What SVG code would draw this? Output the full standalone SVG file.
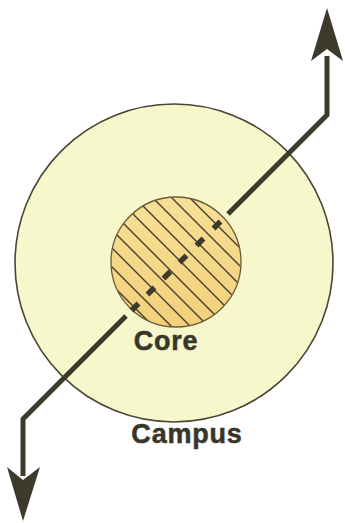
<svg xmlns="http://www.w3.org/2000/svg" width="345" height="523" viewBox="0 0 345 523">
  <defs>
    <style>
      .label { font-family: "Liberation Sans", Arial, sans-serif; font-weight: bold; font-size: 27px; fill: #38362a; text-anchor: middle; letter-spacing: 0.8px; stroke: #38362a; stroke-width: 0.5; }
      .hatch { stroke: #4a4030; stroke-width: 1.4; }
      .flow { fill: none; stroke: #3d3a2c; stroke-width: 5; stroke-linejoin: miter; }
      .dash { stroke: #3d3a2c; stroke-width: 5.5; stroke-linecap: butt; }
    </style>
    <clipPath id="coreClip">
      <circle cx="176" cy="262" r="65"/>
    </clipPath>
    <linearGradient id="coreFill" x1="0" y1="0" x2="0" y2="1">
      <stop offset="0" stop-color="#f7e096"/>
      <stop offset="1" stop-color="#f2d07a"/>
    </linearGradient>
  </defs>
  <rect width="345" height="523" fill="#ffffff"/>

  <g id="campus">
    <circle cx="174" cy="263" r="159" fill="#f6f8cc" stroke="#4a4535" stroke-width="1.6"/>
    <text class="label" x="187" y="443">Campus</text>
  </g>

  <g id="core">
    <circle cx="176" cy="262" r="65" fill="url(#coreFill)"/>
    <g clip-path="url(#coreClip)">
      <line class="hatch" x1="17" y1="190" x2="162" y2="335"/>
      <line class="hatch" x1="35" y1="190" x2="180" y2="335"/>
      <line class="hatch" x1="54" y1="190" x2="199" y2="335"/>
      <line class="hatch" x1="72" y1="190" x2="217" y2="335"/>
      <line class="hatch" x1="90" y1="190" x2="235" y2="335"/>
      <line class="hatch" x1="109" y1="190" x2="254" y2="335"/>
      <line class="hatch" x1="127" y1="190" x2="272" y2="335"/>
      <line class="hatch" x1="145" y1="190" x2="290" y2="335"/>
      <line class="hatch" x1="164" y1="190" x2="309" y2="335"/>
      <line class="hatch" x1="182" y1="190" x2="327" y2="335"/>
    </g>
    <circle cx="176" cy="262" r="65" fill="none" stroke="#6b5a3a" stroke-width="1.3"/>
    <text class="label" x="166" y="350">Core</text>
  </g>

  <g id="connectors">
    <polyline class="flow" points="327,56 327,115 228,214"/>
    <polygon points="327,8 343,61 327,49 311,61" fill="#3d3a2c"/>
    <polyline class="flow" points="126,316 23,419 23,476"/>
    <polygon points="23,521 7,467 23,480 40,467" fill="#3d3a2c"/>
    <line class="dash" x1="213.5" y1="228.5" x2="220.5" y2="221.5"/>
    <line class="dash" x1="196.5" y1="245.5" x2="203.5" y2="238.5"/>
    <line class="dash" x1="179.5" y1="262.5" x2="186.5" y2="255.5"/>
    <line class="dash" x1="163.5" y1="278.5" x2="170.5" y2="271.5"/>
    <line class="dash" x1="147.5" y1="294.5" x2="154.5" y2="287.5"/>
    <line class="dash" x1="131.5" y1="310.5" x2="138.5" y2="303.5"/>
  </g>
</svg>
